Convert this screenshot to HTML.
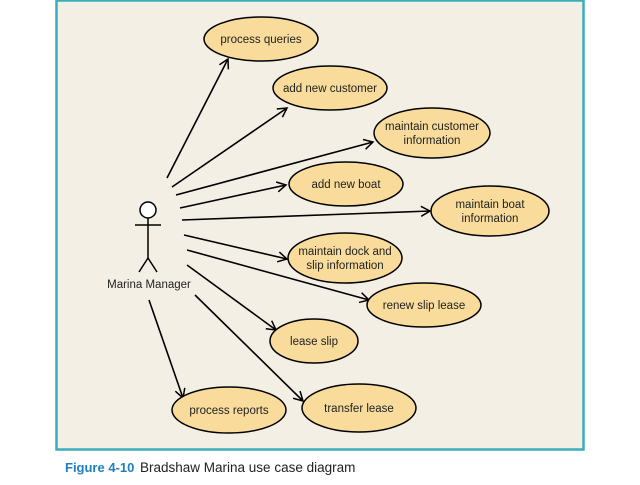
<!DOCTYPE html>
<html><head><meta charset="utf-8"><style>
body{margin:0;background:#fff;width:640px;height:480px;overflow:hidden;font-family:"Liberation Sans",sans-serif}
</style></head><body>
<svg width="640" height="480" xmlns="http://www.w3.org/2000/svg">
<defs><marker id="a" markerWidth="12" markerHeight="12" refX="10" refY="6" orient="auto" markerUnits="userSpaceOnUse"><path d="M1,1 L10,6 L1,11" fill="none" stroke="#000" stroke-width="1.5"/></marker></defs>
<rect x="56.5" y="0.5" width="527" height="449" fill="#f4efe4" stroke="#3aaebd" stroke-width="2.5"/>
<g stroke="#000" stroke-width="1.6" marker-end="url(#a)">
<line x1="167" y1="178" x2="228" y2="59"/>
<line x1="172" y1="187" x2="287" y2="108"/>
<line x1="176" y1="195" x2="373" y2="142"/>
<line x1="180" y1="208" x2="286" y2="185"/>
<line x1="182" y1="220" x2="430" y2="211"/>
<line x1="184" y1="235" x2="287" y2="259"/>
<line x1="187" y1="250" x2="369" y2="300"/>
<line x1="187" y1="265" x2="276" y2="330"/>
<line x1="149" y1="300" x2="183" y2="398"/>
<line x1="195" y1="295" x2="303" y2="401"/>
</g>
<g fill="#f9dc9b" stroke="#000" stroke-width="1.5">
<ellipse cx="261" cy="39" rx="57" ry="22"/>
<ellipse cx="330" cy="88" rx="57" ry="22"/>
<ellipse cx="432" cy="133" rx="58" ry="25"/>
<ellipse cx="346" cy="184" rx="57" ry="22"/>
<ellipse cx="490" cy="211" rx="59" ry="25"/>
<ellipse cx="345" cy="258" rx="57" ry="25"/>
<ellipse cx="424" cy="305" rx="57" ry="22"/>
<ellipse cx="314" cy="341" rx="44" ry="22"/>
<ellipse cx="229" cy="410" rx="57" ry="23"/>
<ellipse cx="359" cy="408" rx="57" ry="24"/>
</g>
<g font-size="11.5" fill="#222" text-anchor="middle">
<text x="261" y="43">process queries</text>
<text x="330" y="92">add new customer</text>
<text x="432" y="130">maintain customer</text><text x="432" y="144">information</text>
<text x="346" y="188">add new boat</text>
<text x="490" y="208">maintain boat</text><text x="490" y="222">information</text>
<text x="345" y="255">maintain dock and</text><text x="345" y="269">slip information</text>
<text x="424" y="309">renew slip lease</text>
<text x="314" y="345">lease slip</text>
<text x="229" y="414">process reports</text>
<text x="359" y="412">transfer lease</text>
<text x="149" y="288">Marina Manager</text>
</g>
<g stroke="#000" stroke-width="1.5" fill="none">
<circle cx="148" cy="210" r="8" fill="#fff"/>
<line x1="148" y1="218" x2="148" y2="258"/>
<line x1="135" y1="225" x2="161" y2="225"/>
<line x1="148" y1="258" x2="139" y2="272"/>
<line x1="148" y1="258" x2="157" y2="272"/>
</g>
<text x="65" y="472" font-size="13" font-weight="bold" fill="#1f7fc0">Figure 4-10</text>
<text x="140" y="472" font-size="13.5" fill="#222">Bradshaw Marina use case diagram</text>
</svg>
</body></html>
